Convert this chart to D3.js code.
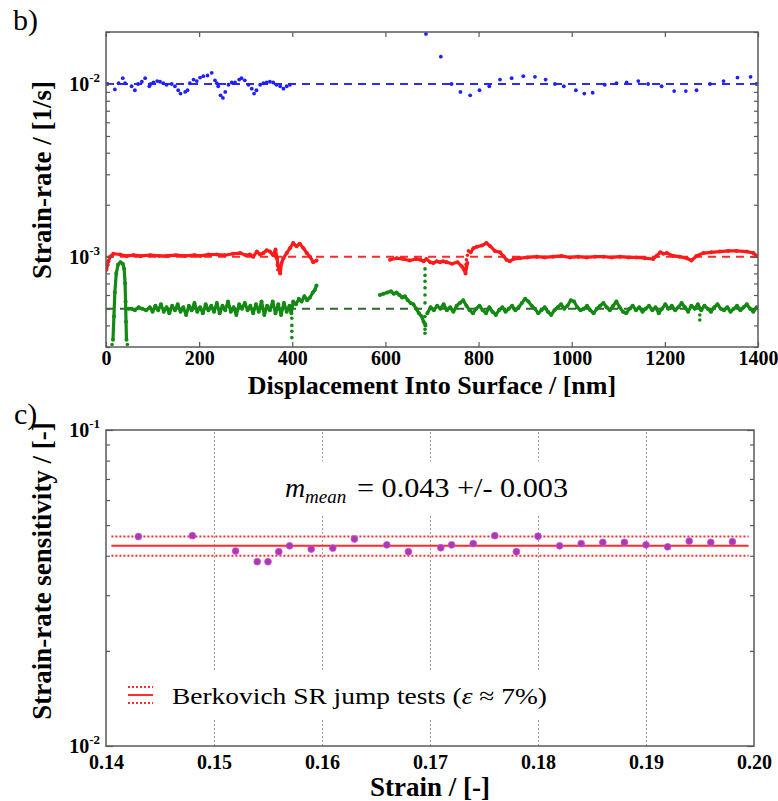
<!DOCTYPE html>
<html>
<head>
<meta charset="utf-8">
<script src="https://cdn.jsdelivr.net/npm/d3@7"></script>
<style>
  body { margin: 0; background: #fff; }
  svg { display: block; }
</style>
</head>
<body>
<svg id="chart" width="778" height="801"></svg>
<script>
// ---------- Panel b: strain rate vs. displacement ----------
const depthTicks = [0, 200, 400, 600, 800, 1000, 1200, 1400];
const targetRates = [0.01, 0.001, 0.0005];   // nominal rates (dashed lines)

// 1e-2 /s test: individual points [nm, 1/s]
const blueRate = [
  [3,0.0100],[19,0.0093],[27,0.0101],[36,0.0108],[41,0.0101],[55,0.0097],[62,0.0092],[69,0.0100],
  [77,0.0103],[84,0.0108],[93,0.0097],[96,0.0100],[102,0.0102],[110,0.0104],[116,0.0103],[123,0.0101],
  [130,0.0099],[141,0.0100],[148,0.0097],[155,0.0092],[160,0.0088],[170,0.0090],[175,0.0092],[180,0.0101],
  [188,0.0106],[195,0.0104],[202,0.0109],[209,0.0111],[218,0.0112],[227,0.0116],[234,0.0105],[238,0.0101],
  [241,0.0097],[246,0.0086],[251,0.0083],[256,0.0090],[263,0.0099],[270,0.0102],[277,0.0102],[286,0.0106],
  [291,0.0108],[298,0.0105],[306,0.0099],[313,0.0094],[318,0.0088],[323,0.0092],[331,0.0099],[338,0.0101],
  [345,0.0102],[352,0.0103],[359,0.0102],[366,0.0099],[374,0.0097],[381,0.0094],[388,0.0097],[395,0.0099],
  [687,0.0195],[719,0.0144],
  [742,0.0100],[761,0.0090],[782,0.0086],[802,0.0092],[823,0.0097],[846,0.0106],[871,0.0108],[896,0.0111],
  [921,0.0110],[944,0.0106],[964,0.0100],[983,0.0097],[1009,0.0092],[1027,0.0088],[1045,0.0089],[1071,0.0099],
  [1096,0.0101],[1118,0.0102],[1143,0.0104],[1164,0.0100],[1193,0.0097],[1220,0.0091],[1245,0.0091],[1268,0.0092],
  [1297,0.0100],[1326,0.0104],[1356,0.0109],[1384,0.0110],[1397,0.0100]
];

// 1e-3 /s test: continuous segments [nm, 1/s]
const redRateA = [
  [1,0.00084],[5,0.00094],[9,0.00100],[16,0.00104],[30,0.00103],[45,0.00101],[59,0.00102],[75,0.00101],
  [95,0.00102],[115,0.00101],[130,0.00101],[150,0.00102],[170,0.00101],[190,0.00102],[202,0.00101],[220,0.00103],
  [238,0.00103],[255,0.00102],[273,0.00104],[288,0.00105],[300,0.00102],[309,0.00103],[316,0.00100],[324,0.00107],
  [331,0.00103],[338,0.00105],[345,0.00109],[352,0.00107],[359,0.00102],[364,0.00110],[367,0.00098],[370,0.00088],
  [374,0.00080],[377,0.00092],[381,0.00098],[388,0.00105],[395,0.00112],[402,0.00120],[409,0.00115],[416,0.00119],
  [424,0.00112],[431,0.00105],[438,0.00100],[445,0.00093],[452,0.00095]
];
const redRateB = [
  [610,0.00096],[624,0.00098],[638,0.00097],[652,0.00095],[666,0.00097],[675,0.00096],[682,0.00094],[688,0.00097],
  [696,0.00093],[703,0.00092],[710,0.00094],[717,0.00093],[724,0.00094],[731,0.00093],[743,0.00091],[755,0.00093],
  [764,0.00088],[769,0.00084],[772,0.00080],[776,0.00092]
];
const redRateC = [
  [783,0.00106],[789,0.00112],[796,0.00114],[807,0.00116],[817,0.00120],[825,0.00115],[835,0.00108],[846,0.00106],
  [853,0.00101],[860,0.00096],[867,0.00094],[875,0.00097],[889,0.00098],[905,0.00099],[925,0.00100],[942,0.00099],
  [960,0.00100],[978,0.00101],[996,0.00099],[1014,0.00100],[1032,0.00099],[1050,0.00100],[1068,0.00100],[1086,0.00099],
  [1104,0.00100],[1122,0.00099],[1139,0.00099],[1157,0.00098],[1175,0.00097],[1182,0.00101],[1190,0.00106],[1197,0.00104],
  [1204,0.00105],[1218,0.00101],[1232,0.00100],[1247,0.00098],[1257,0.00095],[1268,0.00101],[1283,0.00105],[1300,0.00106],
  [1318,0.00107],[1336,0.00108],[1354,0.00108],[1376,0.00107],[1390,0.00105],[1397,0.00101]
];

// 5e-4 /s test: continuous segments [nm, 1/s]
const greenSpike = [
  [15,0.00033],[17,0.00045],[19,0.00062],[22,0.00080],[26,0.00090],[31,0.00093],[36,0.00091],[39,0.00085],
  [41,0.00070],[42,0.00055],[43,0.00042],[44,0.00033]
];
const greenRateA = [
  [48,0.00050],[55,0.00050],[62,0.00049],[70,0.00051],[78,0.00050],[86,0.00049],[94,0.00051],[100,0.00048],
  [106,0.00052],[112,0.00049],[118,0.00053],[124,0.00048],[130,0.00051],[136,0.00047],[142,0.00052],[148,0.00049],
  [154,0.00053],[160,0.00048],[166,0.00051],[172,0.00046],[178,0.00052],[184,0.00049],[190,0.00054],[196,0.00048],
  [202,0.00051],[208,0.00047],[214,0.00053],[220,0.00049],[226,0.00052],[232,0.00048],[238,0.00054],[244,0.00047],
  [250,0.00052],[256,0.00049],[262,0.00055],[268,0.00048],[274,0.00051],[280,0.00046],[286,0.00053],[292,0.00050],
  [298,0.00054],[304,0.00049],[310,0.00052],[316,0.00047],[322,0.00053],[328,0.00048],[334,0.00055],[340,0.00046],
  [346,0.00052],[352,0.00049],[358,0.00055],[364,0.00047],[370,0.00053],[376,0.00046],[382,0.00054],[388,0.00048],
  [394,0.00052],[398,0.00047],[402,0.00055],[408,0.00053],[414,0.00057],[420,0.00055],[426,0.00059],[432,0.00056],
  [438,0.00058],[444,0.00062],[448,0.00064],[452,0.00068]
];
const greenRateB = [
  [588,0.00060],[596,0.00061],[604,0.00062],[612,0.00063],[618,0.00061],[624,0.00062],[630,0.00060],[636,0.00058],
  [642,0.00059],[648,0.00056],[654,0.00054],[660,0.00053],[666,0.00050],[672,0.00047],[678,0.00045],[682,0.00042],
  [686,0.00040]
];
const greenRateC = [
  [690,0.00047],[697,0.00051],[704,0.00049],[711,0.00052],[718,0.00050],[725,0.00053],[732,0.00049],[739,0.00051],
  [746,0.00048],[753,0.00052],[760,0.00054],[767,0.00056],[774,0.00052],[781,0.00049],[788,0.00047],[795,0.00050],
  [802,0.00052],[809,0.00049],[816,0.00047],[823,0.00051],[830,0.00048],[837,0.00046],[844,0.00049],[851,0.00051],
  [858,0.00048],[865,0.00050],[872,0.00052],[879,0.00049],[886,0.00051],[893,0.00054],[900,0.00057],[907,0.00055],
  [914,0.00052],[921,0.00050],[928,0.00047],[935,0.00049],[942,0.00051],[949,0.00048],[956,0.00046],[963,0.00049],
  [970,0.00051],[977,0.00053],[984,0.00050],[991,0.00052],[998,0.00056],[1005,0.00055],[1012,0.00051],[1019,0.00049],
  [1026,0.00050],[1033,0.00052],[1040,0.00049],[1047,0.00047],[1054,0.00050],[1061,0.00052],[1068,0.00054],[1075,0.00051],
  [1082,0.00049],[1089,0.00052],[1096,0.00055],[1103,0.00051],[1110,0.00048],[1117,0.00047],[1124,0.00050],[1131,0.00052],
  [1138,0.00049],[1145,0.00051],[1152,0.00048],[1159,0.00050],[1166,0.00052],[1173,0.00049],[1180,0.00051],[1187,0.00047],
  [1194,0.00050],[1201,0.00053],[1208,0.00050],[1215,0.00052],[1222,0.00049],[1229,0.00051],[1236,0.00054],[1243,0.00051],
  [1250,0.00048],[1257,0.00052],[1264,0.00050],[1271,0.00053],[1278,0.00049],[1285,0.00052],[1292,0.00050],[1299,0.00048],
  [1306,0.00051],[1313,0.00053],[1320,0.00050],[1327,0.00049],[1334,0.00051],[1341,0.00048],[1348,0.00050],[1355,0.00052],
  [1362,0.00049],[1369,0.00051],[1376,0.00053],[1383,0.00050],[1390,0.00048],[1397,0.00051]
];
// isolated samples where the rate jumps (vertical dotted runs)
const redJumps = [[368,0.00090],[369,0.00084],[772,0.00086],[773,0.00090],[774,0.00096],[776,0.00102],[778,0.00108]];
const greenJumps = [
  [399,0.00044],[399,0.00040],[399,0.00037],[399,0.00034],
  [685,0.00085],[685,0.00078],[685,0.00072],[685,0.00066],[685,0.00060],[685,0.00054],[685,0.00045],[685,0.00041],[685,0.00038],[685,0.00036],
  [46,0.00031],[13,0.00031],[1275,0.00046],[1275,0.00043]
];

// ---------- Panel c: strain-rate sensitivity vs. strain ----------
const strainTicks = [0.14, 0.15, 0.16, 0.17, 0.18, 0.19, 0.20];
const strainGrid = [0.15, 0.16, 0.17, 0.18, 0.19];
const strain = [0.143,0.148,0.152,0.154,0.155,0.156,0.157,0.159,0.161,0.163,0.166,0.168,0.171,0.172,
                0.174,0.176,0.178,0.180,0.182,0.184,0.186,0.188,0.190,0.192,0.194,0.196,0.198];
const srs = [0.0460,0.0463,0.0414,0.0383,0.0383,0.0412,0.0430,0.0420,0.0423,0.0452,0.0433,0.0412,0.0424,0.0433,
             0.0437,0.0463,0.0412,0.0461,0.0430,0.0437,0.0441,0.0441,0.0433,0.0427,0.0445,0.0441,0.0443];
const srsMean = 0.043;
const srsStd = 0.003;

// ---------- drawing ----------
const svg = d3.select('#chart');
const serif = '"Liberation Serif","Times New Roman",Times,serif';
const frameColor = '#5a5a5a';
const tickFont = '20px';

function logTicks(lo, hi) {
  const major = [], minor = [];
  for (let e = Math.floor(Math.log10(lo)); e <= Math.ceil(Math.log10(hi)); e++) {
    for (let m = 1; m < 10; m++) {
      const v = +(m * Math.pow(10, e)).toPrecision(6);
      if (v < lo * 0.999 || v > hi * 1.001) continue;
      (m === 1 ? major : minor).push(v);
    }
  }
  return { major, minor };
}

function styleAxis(sel) {
  sel.select('.domain').remove();
  sel.selectAll('.tick line').attr('stroke', frameColor).attr('stroke-width', 1.2);
  sel.selectAll('.tick text').attr('fill', '#000')
     .style('font-family', serif).style('font-weight', 'bold').style('font-size', tickFont);
}

function logAxes(g, y, left, right, padLabel) {
  const [lo, hi] = y.domain();
  const t = logTicks(lo, hi);
  [[d3.axisLeft, left], [d3.axisRight, right]].forEach(([ax, x0]) => {
    g.append('g').attr('transform', `translate(${x0},0)`)
      .call(ax(y).tickValues(t.major).tickSize(-7).tickFormat('')).call(styleAxis);
    g.append('g').attr('transform', `translate(${x0},0)`)
      .call(ax(y).tickValues(t.minor).tickSize(-4).tickFormat('')).call(styleAxis);
  });
  t.major.forEach(v => {
    const txt = g.append('text')
      .attr('x', left - padLabel).attr('y', y(v) + 7)
      .attr('text-anchor', 'end')
      .style('font-family', serif).style('font-weight', 'bold').style('font-size', tickFont);
    txt.append('tspan').text('10');
    txt.append('tspan').attr('dy', -9).style('font-size', '13px').text(String(Math.round(Math.log10(v))));
  });
}

// ===== Panel b =====
const B = { left: 106, right: 758, top: 32, bottom: 347 };
const xB = d3.scaleLinear().domain([0, 1400]).range([B.left, B.right]);
const yB = d3.scaleLog().domain([3e-4, 2e-2]).range([B.bottom, B.top]);
const gB = svg.append('g');

gB.append('clipPath').attr('id', 'clipB').append('rect')
  .attr('x', B.left).attr('y', B.top).attr('width', B.right - B.left).attr('height', B.bottom - B.top);
const plotB = gB.append('g').attr('clip-path', 'url(#clipB)');

const colors = { blue: '#1f1fff', red: '#ff1a1a', green: '#138a13' };
const dashColors = ['#2a2aff', '#ff2a2a', '#2f6a2f'];

// nominal-rate reference lines
plotB.selectAll('line.ref').data(targetRates).enter().append('line')
  .attr('x1', xB(0)).attr('x2', xB(1400))
  .attr('y1', d => yB(d)).attr('y2', d => yB(d))
  .attr('stroke', (d, i) => dashColors[i]).attr('stroke-width', 2)
  .attr('stroke-dasharray', '8,6');

const lineB = d3.line().x(d => xB(d[0])).y(d => yB(d[1]));
function trace(data, color) {
  plotB.append('path').datum(data).attr('d', lineB)
    .attr('fill', 'none').attr('stroke', color).attr('stroke-width', 3.2)
    .attr('stroke-linejoin', 'round');
  plotB.append('g').selectAll('circle').data(data).enter().append('circle')
    .attr('cx', d => xB(d[0])).attr('cy', d => yB(d[1])).attr('r', 2).attr('fill', color);
}
[redRateA, redRateB, redRateC].forEach(s => trace(s, colors.red));
[greenSpike, greenRateA, greenRateB, greenRateC].forEach(s => trace(s, colors.green));

plotB.append('g').selectAll('circle').data(redJumps).enter().append('circle')
  .attr('cx', d => xB(d[0])).attr('cy', d => yB(d[1])).attr('r', 1.8).attr('fill', colors.red);
plotB.append('g').selectAll('circle').data(greenJumps).enter().append('circle')
  .attr('cx', d => xB(d[0])).attr('cy', d => yB(d[1])).attr('r', 1.8).attr('fill', colors.green);
plotB.append('g').selectAll('circle').data(blueRate).enter().append('circle')
  .attr('cx', d => xB(d[0])).attr('cy', d => yB(d[1])).attr('r', 1.9).attr('fill', colors.blue);

// axes and frame
gB.append('g').attr('transform', `translate(0,${B.bottom})`)
  .call(d3.axisBottom(xB).tickValues(depthTicks).tickSize(-5).tickPadding(4).tickFormat(d3.format('d')))
  .call(styleAxis);
gB.append('g').attr('transform', `translate(0,${B.top})`)
  .call(d3.axisTop(xB).tickValues(depthTicks).tickSize(-5).tickFormat(''))
  .call(styleAxis);
logAxes(gB, yB, B.left, B.right, 6);
gB.append('rect').attr('x', B.left).attr('y', B.top)
  .attr('width', B.right - B.left).attr('height', B.bottom - B.top)
  .attr('fill', 'none').attr('stroke', frameColor).attr('stroke-width', 1.5);

gB.append('text').attr('x', (B.left + B.right) / 2).attr('y', 394)
  .attr('text-anchor', 'middle')
  .style('font-family', serif).style('font-weight', 'bold').style('font-size', '26px')
  .text('Displacement Into Surface / [nm]');
gB.append('text').attr('transform', 'translate(51,180) rotate(-90)')
  .attr('text-anchor', 'middle')
  .style('font-family', serif).style('font-weight', 'bold').style('font-size', '27px')
  .text('Strain-rate / [1/s]');
gB.append('text').attr('x', 13).attr('y', 30)
  .style('font-family', serif).style('font-size', '30px').text('b)');

// ===== Panel c =====
const C = { left: 106, right: 754, top: 430, bottom: 746 };
const xC = d3.scaleLinear().domain([0.14, 0.20]).range([C.left, C.right]);
const yC = d3.scaleLog().domain([0.01, 0.1]).range([C.bottom, C.top]);
const gC = svg.append('g');

// dotted vertical grid
gC.append('g').attr('transform', `translate(0,${C.bottom})`)
  .call(d3.axisBottom(xC).tickValues(strainGrid).tickSize(-(C.bottom - C.top)).tickFormat(''))
  .call(sel => {
    sel.select('.domain').remove();
    sel.selectAll('.tick line').attr('stroke', '#9a9a9a').attr('stroke-width', 1).attr('stroke-dasharray', '2,2');
  });

// text backgrounds
gC.append('rect').attr('x', 280).attr('y', 461).attr('width', 296).attr('height', 53).attr('fill', '#fff');
gC.append('rect').attr('x', 118).attr('y', 672).attr('width', 440).attr('height', 48).attr('fill', '#fff');

// mean and +/- band
const bandColor = '#ff2a2a';
const levels = [
  { v: srsMean + srsStd, dash: '2,2' },
  { v: srsMean, dash: null },
  { v: srsMean - srsStd, dash: '2,2' }
];
gC.selectAll('line.lvl').data(levels).enter().append('line')
  .attr('x1', xC(0.1405)).attr('x2', xC(0.1995))
  .attr('y1', d => yC(d.v)).attr('y2', d => yC(d.v))
  .attr('stroke', bandColor).attr('stroke-width', 2)
  .attr('stroke-dasharray', d => d.dash);

gC.append('g').selectAll('circle').data(strain.map((s, i) => [s, srs[i]])).enter().append('circle')
  .attr('cx', d => xC(d[0])).attr('cy', d => yC(d[1])).attr('r', 3.4)
  .attr('fill', '#a93ab4').attr('stroke', '#d14fd6').attr('stroke-width', 0.8);

// axes and frame
gC.append('g').attr('transform', `translate(0,${C.bottom})`)
  .call(d3.axisBottom(xC).tickValues(strainTicks).tickSize(0).tickPadding(9).tickFormat(d3.format('.2f')))
  .call(styleAxis);
logAxes(gC, yC, C.left, C.right, 6);
gC.append('rect').attr('x', C.left).attr('y', C.top)
  .attr('width', C.right - C.left).attr('height', C.bottom - C.top)
  .attr('fill', 'none').attr('stroke', frameColor).attr('stroke-width', 1.5);

// annotation built from the mean and spread
gC.append('text').attr('x', 285).attr('y', 497)
  .style('font-family', serif).style('font-style', 'italic').style('font-size', '28px').text('m');
gC.append('text').attr('x', 305).attr('y', 503)
  .style('font-family', serif).style('font-style', 'italic').style('font-size', '19px').text('mean');
gC.append('text').attr('x', 357).attr('y', 497)
  .style('font-family', serif).style('font-size', '27px')
  .attr('textLength', 211).attr('lengthAdjust', 'spacingAndGlyphs')
  .text(`= ${srsMean.toFixed(3)} +/- ${srsStd.toFixed(3)}`);

// legend
const lg = gC.append('g');
[[687, '2,2'], [695, null], [703, '2,2']].forEach(([yy, dash]) => {
  lg.append('line').attr('x1', 128).attr('x2', 153).attr('y1', yy).attr('y2', yy)
    .attr('stroke', bandColor).attr('stroke-width', 2).attr('stroke-dasharray', dash);
});
const lt = lg.append('text').attr('x', 172).attr('y', 704)
  .style('font-family', serif).style('font-size', '24px')
  .attr('textLength', 375).attr('lengthAdjust', 'spacingAndGlyphs');
lt.append('tspan').text('Berkovich  SR jump tests (');
lt.append('tspan').style('font-style', 'italic').text('ε');
lt.append('tspan').text(' ≈ 7%)');

gC.append('text').attr('x', (C.left + C.right) / 2).attr('y', 796)
  .attr('text-anchor', 'middle')
  .style('font-family', serif).style('font-weight', 'bold').style('font-size', '27px')
  .text('Strain / [-]');
gC.append('text').attr('transform', `translate(51,${(C.top + C.bottom) / 2 - 17}) rotate(-90)`)
  .attr('text-anchor', 'middle')
  .style('font-family', serif).style('font-weight', 'bold').style('font-size', '27px')
  .text('Strain-rate sensitivity / [-]');
gC.append('text').attr('x', 14).attr('y', 424)
  .style('font-family', serif).style('font-size', '30px').text('c)');
</script>
</body>
</html>
